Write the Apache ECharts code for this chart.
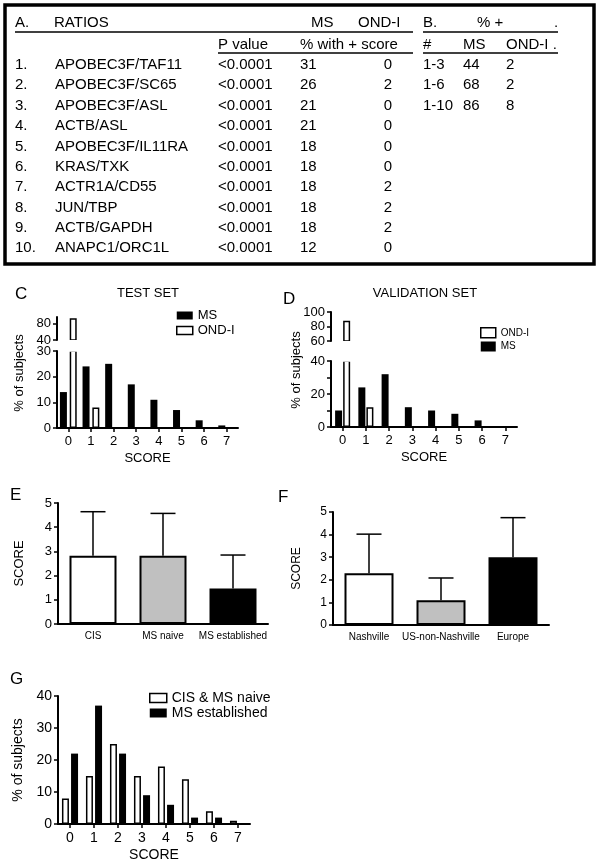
<!DOCTYPE html>
<html><head><meta charset="utf-8">
<script src="https://cdn.jsdelivr.net/npm/echarts@6/dist/echarts.min.js"></script>
<style>html,body{margin:0;padding:0;background:#fff}#c{width:602px;height:867px}</style>
</head><body><div id="c"></div>
<script>
const FONT = '"Liberation Sans", Arial, Helvetica, sans-serif';

// ---- Table A / B ----
const ratioNames = ['APOBEC3F/TAF11','APOBEC3F/SC65','APOBEC3F/ASL','ACTB/ASL','APOBEC3F/IL11RA','KRAS/TXK','ACTR1A/CD55','JUN/TBP','ACTB/GAPDH','ANAPC1/ORC1L'];
const ratioP = ['<0.0001','<0.0001','<0.0001','<0.0001','<0.0001','<0.0001','<0.0001','<0.0001','<0.0001','<0.0001'];
const ratioMS = [31,26,21,21,18,18,18,18,18,12];
const ratioOND = [0,2,0,0,0,0,2,2,2,0];
const bRanges = ['1-3','1-6','1-10'];
const bMS = [44,68,86];
const bOND = [2,2,8];

// ---- C: test set ----
const scoreCats = ['0','1','2','3','4','5','6','7'];
const testMS = [14,24,25,17,11,7,3,1];
const testOND = [92,8,0,0,0,0,0,0];
// ---- D: validation set ----
const valMS = [10,24,32,12,10,8,4,0];
const valOND = [88,12,0,0,0,0,0,0];
// ---- E ----
const eCats = ['CIS','MS naive','MS established'];
const eMean = [2.82,2.82,1.47];
const eSD = [1.82,1.75,1.38];
// ---- F ----
const fCats = ['Nashville','US-non-Nashville','Europe'];
const fMean = [2.29,1.09,3.0];
const fSD = [1.73,0.99,1.75];
// ---- G ----
const gNaive = [8,15,25,15,18,14,4,1];
const gEstab = [22,37,22,9,6,2,2,0];

const BLACK = {color:'#000'};
const WHITE = {color:'#fff', borderColor:'#000', borderWidth:1.5};

// ---------- graphic (table + texts) ----------
const g = [];
function txt(x, y, s, size, align, extra) {
  g.push(Object.assign({type:'text', x:x, y:y, style:{text:s, font: size + 'px ' + FONT, fill:'#000', textAlign:align||'left', textVerticalAlign:'middle'}}, extra||{}));
}
function ln(x1,y1,x2,y2,w){ g.push({type:'line', shape:{x1,y1,x2,y2}, style:{stroke:'#000', lineWidth:w||1.5}}); }

g.push({type:'rect', shape:{x:5,y:5,width:589,height:259}, style:{fill:'none', stroke:'#000', lineWidth:3.5}});
const TF = 15;
txt(15,23,'A.',TF); txt(54,23,'RATIOS',TF); txt(311,23,'MS',TF); txt(358,23,'OND-I',TF);
txt(423,23,'B.',TF); txt(477,23,'% +',TF); txt(554,23,'.',TF);
ln(15,32,413,32); ln(423,32,558,32);
txt(218,45,'P value',TF); txt(300,45,'% with + score',TF);
txt(423,45,'#',TF); txt(463,45,'MS',TF); txt(506,45,'OND-I .',TF);
ln(218,53,413,53); ln(423,53,558,53);
ratioNames.forEach((n,i)=>{
  const y = 65 + i*20.35;
  txt(15,y,(i+1)+'.',TF); txt(55,y,n,TF); txt(218,y,ratioP[i],TF);
  txt(300,y,String(ratioMS[i]),TF); txt(388,y,String(ratioOND[i]),TF,'center');
});
bRanges.forEach((r,i)=>{
  const y = 65 + i*20.35;
  txt(423,y,r,TF); txt(463,y,String(bMS[i]),TF); txt(506,y,String(bOND[i]),TF);
});
// panel letters and titles
txt(15,294,'C',17); txt(148,293,'TEST SET',13,'center');
txt(283,299,'D',17); txt(425,293,'VALIDATION SET',13,'center');
txt(10,495,'E',17); txt(278,497,'F',17); txt(10,679,'G',17);
// y labels of broken-axis panels
txt(19,373,'% of subjects',13,'center',{rotation:Math.PI/2});
txt(296,370,'% of subjects',13,'center',{rotation:Math.PI/2});
// white masks over the axis-break gaps (hide the clipped bar edges, as in the broken axis)
g.push({type:'rect', z:100, shape:{x:59,y:339.9,width:60,height:11.8}, style:{fill:'#fff'}});
g.push({type:'rect', z:100, shape:{x:333,y:340.9,width:60,height:20.8}, style:{fill:'#fff'}});

// ---------- axes ----------
const axLine = {show:true, lineStyle:{color:'#000', width:2}};
const axTick = {show:true, length:4, lineStyle:{color:'#000', width:1.5}};
function lab(size, extra){ return Object.assign({color:'#000', fontSize:size, fontFamily:FONT}, extra||{}); }

const grids = [
  {left:57, top:317, width:181, height:23},   // 0 C upper
  {left:57, top:351, width:181, height:77},   // 1 C lower
  {left:331, top:312, width:186, height:29},  // 2 D upper
  {left:331, top:361, width:186, height:66},  // 3 D lower
  {left:58, top:503, width:210, height:121},  // 4 E
  {left:333, top:512, width:216, height:113}, // 5 F
  {left:58, top:696, width:192, height:128}   // 6 G
];

function catX(gi, data, show, size, nameStr, nameGap) {
  return {type:'category', gridIndex:gi, data:data, show:show,
    axisLine:axLine, axisTick:Object.assign({alignWithLabel:true}, axTick),
    axisLabel:lab(size,{margin:7, interval:0}), splitLine:{show:false},
    name:nameStr||'', nameLocation:'middle', nameGap:nameGap||24, nameTextStyle:lab(size)};
}
const xAxes = [
  catX(0, scoreCats, false, 13),
  catX(1, scoreCats, true, 13, 'SCORE', 24),
  catX(2, scoreCats, false, 13),
  catX(3, scoreCats, true, 13, 'SCORE', 24),
  {type:'category', gridIndex:4, data:eCats, axisLine:axLine, axisTick:{show:false},
    axisLabel:lab(10,{margin:7, interval:0, hideOverlap:false}), splitLine:{show:false}},
  {type:'category', gridIndex:5, data:fCats, axisLine:axLine, axisTick:{show:false},
    axisLabel:lab(10,{margin:7, interval:0, hideOverlap:false}), splitLine:{show:false}},
  catX(6, scoreCats, true, 14, 'SCORE', 24)
];
function valY(gi, min, max, labVals, tickVals, size, extra) {
  return Object.assign({type:'value', gridIndex:gi, min:min, max:max,
    axisLine:axLine,
    axisTick:Object.assign({customValues:tickVals}, axTick),
    axisLabel:lab(size,{margin:6, customValues:labVals}),
    splitLine:{show:false}}, extra||{});
}
const yAxes = [
  valY(0, 40, 95, [40,80], [40,80], 13),
  valY(1, 0, 30, [0,10,20,30], [0,10,20,30], 13),
  valY(2, 60, 100, [60,80,100], [60,80,100], 13),
  valY(3, 0, 40, [0,20,40], [0,10,20,30,40], 13),
  valY(4, 0, 5, [0,1,2,3,4,5], [0,1,2,3,4,5], 13, {name:'SCORE', nameLocation:'middle', nameGap:32, nameTextStyle:lab(13)}),
  valY(5, 0, 5, [0,1,2,3,4,5], [0,1,2,3,4,5], 12, {name:'SCORE', nameLocation:'middle', nameGap:30, nameTextStyle:lab(12)}),
  valY(6, 0, 40, [0,10,20,30,40], [0,10,20,30,40], 14, {name:'% of subjects', nameLocation:'middle', nameGap:33, nameTextStyle:lab(14)})
];

function errRender(params, api) {
  const i = api.value(0), m = api.value(1), s = api.value(2);
  const p0 = api.coord([i, m]);
  const p1 = api.coord([i, m + s]);
  const hw = 12.5;
  return {type:'group', children:[
    {type:'line', shape:{x1:p0[0], y1:p0[1], x2:p1[0], y2:p1[1]}, style:{stroke:'#000', lineWidth:1.5}},
    {type:'line', shape:{x1:p1[0]-hw, y1:p1[1], x2:p1[0]+hw, y2:p1[1]}, style:{stroke:'#000', lineWidth:1.5}}
  ]};
}

function bar(name, gi, data, style, bw, gap) {
  return {type:'bar', name:name, xAxisIndex:gi, yAxisIndex:gi, data:data, itemStyle:style,
    barWidth:bw, barGap:gap, clip:true, animation:false, silent:true};
}
const barColsE = [{color:'#fff',borderColor:'#000',borderWidth:2},{color:'#c0c0c0',borderColor:'#000',borderWidth:2},{color:'#000',borderColor:'#000',borderWidth:2}];

const series = [
  bar('MS', 0, testMS, BLACK, 7, '40%'),
  bar('OND-I', 0, testOND, WHITE, 7, '40%'),
  bar('MS', 1, testMS, BLACK, 7, '40%'),
  bar('OND-I', 1, testOND, WHITE, 7, '40%'),
  bar('MS', 2, valMS, BLACK, 7, '15%'),
  bar('OND-I', 2, valOND, WHITE, 7, '15%'),
  bar('MS', 3, valMS, BLACK, 7, '15%'),
  bar('OND-I', 3, valOND, WHITE, 7, '15%'),
  {type:'bar', xAxisIndex:4, yAxisIndex:4, barWidth:47, silent:true, animation:false,
    data:eMean.map((v,i)=>({value:v, itemStyle:barColsE[i]}))},
  {type:'custom', xAxisIndex:4, yAxisIndex:4, renderItem:errRender, silent:true, animation:false, z:3,
    encode:{x:0, y:1}, data:eMean.map((m,i)=>[i,m,eSD[i]])},
  {type:'bar', xAxisIndex:5, yAxisIndex:5, barWidth:49, silent:true, animation:false,
    data:fMean.map((v,i)=>({value:v, itemStyle:barColsE[i]}))},
  {type:'custom', xAxisIndex:5, yAxisIndex:5, renderItem:errRender, silent:true, animation:false, z:3,
    encode:{x:0, y:1}, data:fMean.map((m,i)=>[i,m,fSD[i]])},
  bar('CIS & MS naive', 6, gNaive, WHITE, 7, '30%'),
  bar('MS established', 6, gEstab, BLACK, 7, '30%')
];

const legends = [
  {left:176, top:309, orient:'vertical', padding:0, itemGap:2, itemWidth:16, itemHeight:8, icon:'rect',
   textStyle:lab(13), selectedMode:false,
   data:[{name:'MS', itemStyle:{color:'#000'}}, {name:'OND-I', itemStyle:{color:'#fff', borderColor:'#000', borderWidth:1.5}}]},
  {left:480, top:327, orient:'vertical', padding:0, itemGap:3, itemWidth:15, itemHeight:10, icon:'rect',
   textStyle:lab(10), selectedMode:false,
   data:[{name:'OND-I', itemStyle:{color:'#fff', borderColor:'#000', borderWidth:1.5}}, {name:'MS', itemStyle:{color:'#000'}}]},
  {left:149, top:691, orient:'vertical', padding:0, itemGap:1, itemWidth:17, itemHeight:9, icon:'rect',
   textStyle:lab(14), selectedMode:false,
   data:[{name:'CIS & MS naive', itemStyle:{color:'#fff', borderColor:'#000', borderWidth:1.5}}, {name:'MS established', itemStyle:{color:'#000'}}]}
];

const chart = echarts.init(document.getElementById('c'), null, {renderer:'canvas'});
chart.setOption({
  animation:false,
  backgroundColor:'#fff',
  textStyle:{fontFamily:FONT},
  grid:grids, xAxis:xAxes, yAxis:yAxes, series:series, legend:legends,
  graphic:{elements:g}
});
</script></body></html>
